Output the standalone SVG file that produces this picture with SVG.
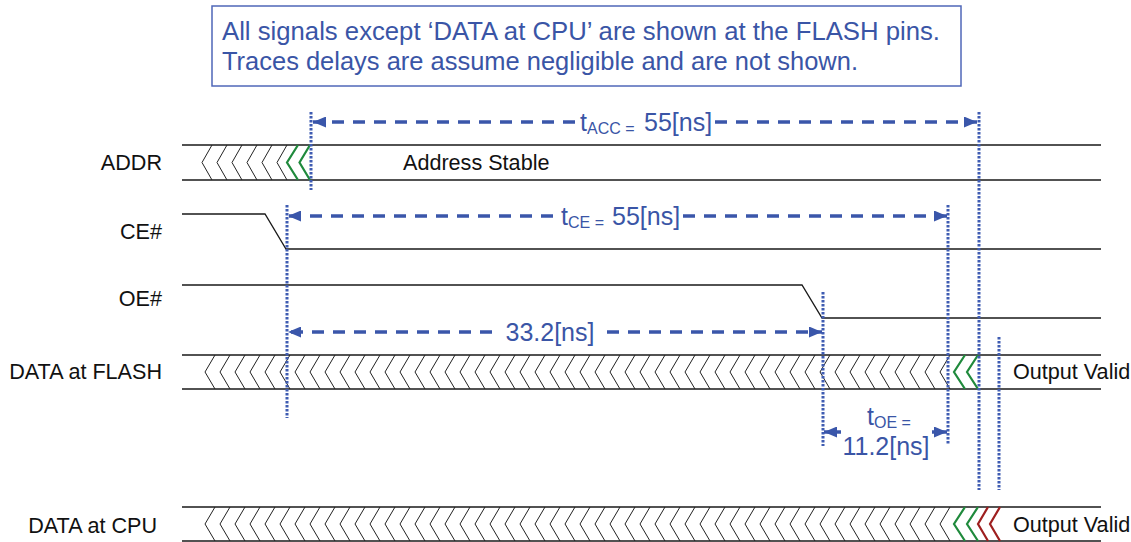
<svg xmlns="http://www.w3.org/2000/svg" width="1131" height="542" viewBox="0 0 1131 542">
<style>
.sig{fill:none;stroke:#1a1a1a;stroke-width:1.3}
.lbl{font-family:"Liberation Sans",Arial,sans-serif;font-size:21.6px;fill:#111}
.blue{font-family:"Liberation Sans",Arial,sans-serif;font-size:25px;fill:#3a55a6}
.note{font-size:26px}
.sub{font-size:16px}
.dot{stroke:#3f5cb2;stroke-width:3;stroke-dasharray:2.5 1.5;fill:none}
.dash{stroke:#3a56aa;stroke-width:3.5;stroke-dasharray:12 9;fill:none;marker-end:url(#ah)}
.grn{fill:none;stroke:#1f8a3c;stroke-width:2.2}
.red{fill:none;stroke:#9e1f1f;stroke-width:2.2}
</style>
<defs>
<marker id="ah" viewBox="0 0 13 11" refX="13" refY="5.5" markerWidth="13" markerHeight="11" markerUnits="userSpaceOnUse" orient="auto"><path d="M0,0 L13,5.5 L0,11 z" fill="#3a56aa"/></marker>
<pattern id="chevA" x="200" y="145" width="15" height="35" patternUnits="userSpaceOnUse"><path d="M12,0 L2,17.5 L12,35" fill="none" stroke="#222" stroke-width="1"/></pattern>
<pattern id="chevF" x="203" y="355" width="15" height="34" patternUnits="userSpaceOnUse"><path d="M12,0 L2,17 L12,34" fill="none" stroke="#222" stroke-width="1"/></pattern>
<pattern id="chevC" x="203" y="507" width="15" height="34" patternUnits="userSpaceOnUse"><path d="M12,0 L2,17 L12,34" fill="none" stroke="#222" stroke-width="1"/></pattern>
</defs>
<rect width="1131" height="542" fill="#fff"/>
<g id="note">
<rect x="212" y="6" width="749" height="80" fill="#fff" stroke="#4f67b8" stroke-width="1.5"/>
<text class="blue note" x="222" y="40" textLength="718" lengthAdjust="spacingAndGlyphs">All signals except ‘DATA at CPU’ are shown at the FLASH pins.</text>
<text class="blue note" x="222" y="70" textLength="636" lengthAdjust="spacingAndGlyphs">Traces delays are assume negligible and are not shown.</text>
</g>
<g id="addr">
<text class="lbl" x="162" y="170" text-anchor="end">ADDR</text>
<path class="sig" d="M182,145 H1101 M182,180 H1101"/>
<rect x="200" y="145" width="90" height="35" fill="url(#chevA)"/>
<polyline class="grn" points="298,145 287,162.5 298,180"/>
<polyline class="grn" points="310,145 299.5,162.5 310,180"/>
<text class="lbl" x="403" y="170">Address Stable</text>
</g>
<g id="ce">
<text class="lbl" x="162" y="239" text-anchor="end">CE#</text>
<path class="sig" d="M182,214 L265,214 L286,249 L1101,249"/>
</g>
<g id="oe">
<text class="lbl" x="162" y="306" text-anchor="end">OE#</text>
<path class="sig" d="M182,285 L802,285 L822,318 L1101,318"/>
</g>
<g id="data-flash">
<text class="lbl" x="162" y="379" text-anchor="end">DATA at FLASH</text>
<path class="sig" d="M182,355 H1101 M182,389 H1101"/>
<rect x="203" y="355" width="750" height="34" fill="url(#chevF)"/>
<polyline class="grn" points="965,355 954,372 965,389"/>
<polyline class="grn" points="978,355 967,372 978,389"/>
<text class="lbl" x="1013" y="379">Output Valid</text>
</g>
<g id="data-cpu">
<text class="lbl" x="157" y="533" text-anchor="end">DATA at CPU</text>
<path class="sig" d="M182,507 H1101 M182,541 H1101"/>
<rect x="203" y="507" width="750" height="34" fill="url(#chevC)"/>
<polyline class="grn" points="965,507 954,524 965,541"/>
<polyline class="grn" points="978,507 967,524 978,541"/>
<polyline class="red" points="988,507 978,524 988,541"/>
<polyline class="red" points="1000,507 990,524 1000,541"/>
<text class="lbl" x="1013" y="532">Output Valid</text>
</g>
<g id="connectors">
<line class="dot" x1="311" y1="112" x2="311" y2="190"/>
<line class="dot" x1="287" y1="205" x2="287" y2="418"/>
<line class="dot" x1="979" y1="112" x2="979" y2="490"/>
<line class="dot" x1="948" y1="205" x2="948" y2="445"/>
<line class="dot" x1="823" y1="292" x2="823" y2="446"/>
<line class="dot" x1="999" y1="337" x2="999" y2="490"/>
<line class="dash" x1="575" y1="122" x2="313" y2="122"/>
<line class="dash" x1="715" y1="122" x2="977" y2="122"/>
<line class="dash" x1="553" y1="216" x2="288" y2="216"/>
<line class="dash" x1="683" y1="216" x2="947" y2="216"/>
<line class="dash" x1="492" y1="332" x2="288" y2="332"/>
<line class="dash" x1="607" y1="332" x2="822" y2="332"/>
<line class="dash" x1="841" y1="432" x2="824" y2="432" style="stroke-dasharray:none"/>
<line class="dash" x1="932" y1="432" x2="947" y2="432" style="stroke-dasharray:none"/>
</g>
<g id="timing-labels">
<text class="blue" x="580" y="131">t<tspan class="sub" dy="3">ACC =</tspan><tspan x="644" dy="-3">55[ns]</tspan></text>
<text class="blue" x="561" y="225">t<tspan class="sub" dy="3">CE =</tspan><tspan x="612" dy="-3">55[ns]</tspan></text>
<text class="blue" x="550" y="341" text-anchor="middle" font-size="26">33.2[ns]</text>
<text class="blue" x="867" y="425">t<tspan class="sub" dy="3">OE =</tspan></text>
<text class="blue" x="886" y="455" text-anchor="middle">11.2[ns]</text>
</g>
</svg>
